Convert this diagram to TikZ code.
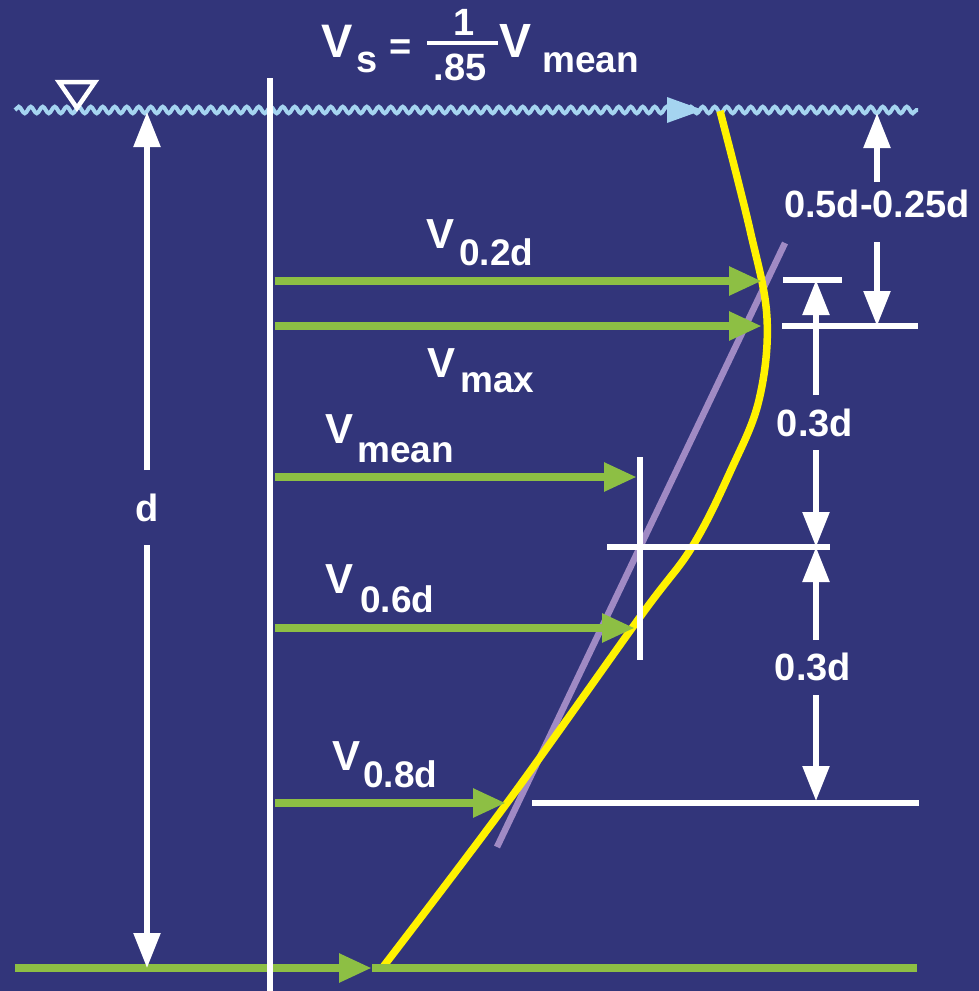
\documentclass[tikz,border=0pt]{standalone}
\usepackage{fontspec}
\setmainfont{Liberation Sans}
\usetikzlibrary{arrows.meta,decorations.pathmorphing}
\definecolor{bg}{RGB}{50,53,122}
\definecolor{vgreen}{RGB}{141,191,68}
\definecolor{vyellow}{RGB}{255,242,0}
\definecolor{vpurple}{RGB}{160,138,196}
\definecolor{wblue}{RGB}{165,212,240}
\begin{document}
\begin{tikzpicture}[x=1pt,y=-1pt,
  lbl/.style={text=white,font=\bfseries\fontsize{#1}{#1}\selectfont,inner sep=0pt},
  dimarrow/.style={white,line width=5.5pt,-{Triangle[length=35pt,width=26pt]}},
  garrow/.style={vgreen,line width=8.5pt,-{Triangle[length=33pt,width=27pt]}},
  wline/.style={white,line width=5.5pt},
]
\fill[bg] (0,0) rectangle (979,991);
\useasboundingbox (0,0) rectangle (979,991);

% water surface
\coordinate (wL) at (15,110);
\coordinate (wR) at (918,110);
\draw[wblue,line width=4pt,decorate,decoration={snake,segment length=12pt,amplitude=3.3pt}] (wL) -- (wR);
\fill[wblue] (667,97) -- (703,110) -- (667,123) -- cycle;
\draw[white,line width=4.5pt,line join=miter] (59,82) -- (95,82) -- (77,108) -- cycle;

% velocity profile lines
\coordinate (pTop) at (785,243);
\coordinate (pBot) at (497,847);
\draw[vpurple,line width=6.5pt] (pTop) -- (pBot);
\draw[vyellow,line width=7.5pt] plot[smooth,tension=0.6] coordinates {(720,111) (750,230) (767,318) (759,400) (731,470) (692,547) (640,617) (507,803) (383,967)};

% bottom green line
\coordinate (bL) at (15,968);
\coordinate (bA) at (372,968);
\coordinate (bR) at (917,968);
\draw[vgreen,line width=8.5pt] (bA) -- (bR);
\draw[garrow] (bL) -- (bA);

% main vertical line
\coordinate (vT) at (270,78);
\coordinate (vB) at (270,991);
\draw[wline] (vT) -- (vB);

% white reference lines
\coordinate (h1a) at (783,280); \coordinate (h1b) at (842,280);
\coordinate (h2a) at (782,326); \coordinate (h2b) at (918,326);
\coordinate (h3a) at (607,547); \coordinate (h3b) at (830,547);
\coordinate (h4a) at (532,803); \coordinate (h4b) at (919,803);
\coordinate (m1) at (640,457);  \coordinate (m2) at (640,660);
\draw[wline] (h1a) -- (h1b);
\draw[wline] (h2a) -- (h2b);
\draw[wline] (h3a) -- (h3b);
\draw[wline] (h4a) -- (h4b);
\draw[wline] (m1) -- (m2);

% green velocity arrows
\coordinate (a1s) at (275,281); \coordinate (a1e) at (762,281);
\coordinate (a2s) at (275,326); \coordinate (a2e) at (762,326);
\coordinate (a3s) at (275,477); \coordinate (a3e) at (637,477);
\coordinate (a4s) at (275,628); \coordinate (a4e) at (635,628);
\coordinate (a5s) at (275,803); \coordinate (a5e) at (506,803);
\draw[garrow] (a1s) -- (a1e);
\draw[garrow] (a2s) -- (a2e);
\draw[garrow] (a3s) -- (a3e);
\draw[garrow] (a4s) -- (a4e);
\draw[garrow] (a5s) -- (a5e);

% dimension d
\node[lbl=38] (dlab) at (147,508) {d};
\coordinate (dT) at (147,112); \coordinate (dA) at (147,470);
\coordinate (dB) at (147,545); \coordinate (dE) at (147,968);
\draw[dimarrow] (dA) -- (dT);
\draw[dimarrow] (dB) -- (dE);

% dimension 0.5d-0.25d
\node[lbl=38] (l1) at (877,204) {0.5d-0.25d};
\coordinate (r1T) at (877,113); \coordinate (r1a) at (877,182);
\coordinate (r1b) at (877,242); \coordinate (r1E) at (877,326);
\draw[dimarrow] (r1a) -- (r1T);
\draw[dimarrow] (r1b) -- (r1E);

% dimension 0.3d upper
\node[lbl=38] (l2) at (815,423) {0.3d};
\coordinate (r2T) at (816,280); \coordinate (r2a) at (816,395);
\coordinate (r2b) at (816,450); \coordinate (r2E) at (816,547);
\draw[dimarrow] (r2a) -- (r2T);
\draw[dimarrow] (r2b) -- (r2E);

% dimension 0.3d lower
\node[lbl=38] (l3) at (813,667) {0.3d};
\coordinate (r3T) at (816,547); \coordinate (r3a) at (816,640);
\coordinate (r3b) at (816,695); \coordinate (r3E) at (816,801);
\draw[dimarrow] (r3a) -- (r3T);
\draw[dimarrow] (r3b) -- (r3E);

% formula
\node[lbl=47,anchor=base west] (fV) at (321,57) {V};
\node[lbl=38,anchor=base west] (fs) at (356,72) {s};
\node[lbl=38] (feq) at (401,50) {=};
\coordinate (fbL) at (427,43); \coordinate (fbR) at (498,43);
\draw[white,line width=4pt] (fbL) -- (fbR);
\node[lbl=38,anchor=base] (fn) at (464,35) {1};
\node[lbl=38,anchor=base] (fd) at (460,80) {.85};
\node[lbl=48,anchor=base west] (fV2) at (499,57) {V};
\node[lbl=37,anchor=base west] (fm) at (542,72) {mean};

% velocity labels
\node[lbl=42,anchor=base west] (v1) at (426,248) {V};
\node[lbl=37,anchor=base west] (v1s) at (459,265) {0.2d};
\node[lbl=42,anchor=base west] (v2) at (427,377) {V};
\node[lbl=37,anchor=base west] (v2s) at (460,392) {max};
\node[lbl=42,anchor=base west] (v3) at (325,443) {V};
\node[lbl=37,anchor=base west] (v3s) at (357,462) {mean};
\node[lbl=42,anchor=base west] (v4) at (325,593) {V};
\node[lbl=37,anchor=base west] (v4s) at (360,612) {0.6d};
\node[lbl=42,anchor=base west] (v5) at (332,770) {V};
\node[lbl=37,anchor=base west] (v5s) at (363,787) {0.8d};
\end{tikzpicture}
\end{document}
